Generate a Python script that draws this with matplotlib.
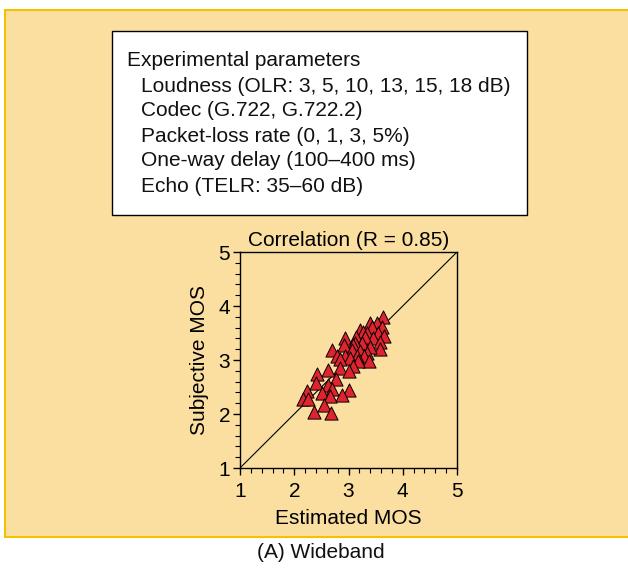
import matplotlib
matplotlib.use("Agg")
import matplotlib.pyplot as plt
from matplotlib.patches import Rectangle
from matplotlib.ticker import MultipleLocator

plt.rcParams['font.family'] = ['Liberation Sans', 'DejaVu Sans']

# Data
estimated_mos = [3.63, 3.39, 3.52, 3.62, 3.43, 3.22, 3.26, 3.34, 3.55, 3.65,
                 3.46, 2.94, 3.14, 3.30, 3.58, 3.58, 3.25, 3.12, 3.09, 2.91,
                 3.40, 2.69, 3.06, 3.21, 3.34, 3.28, 3.15, 2.78, 2.94, 3.03,
                 2.85, 3.37, 3.18, 3.09, 2.85, 3.00, 2.63, 2.42, 2.77, 2.40,
                 2.63, 2.69, 2.23, 2.51, 3.00, 2.88, 2.65, 2.17, 2.26, 2.55,
                 2.37, 2.67]
subjective_mos = [3.80, 3.69, 3.69, 3.62, 3.61, 3.56, 3.52, 3.50, 3.50, 3.44,
                  3.41, 3.41, 3.43, 3.43, 3.33, 3.21, 3.31, 3.31, 3.28, 3.27,
                  3.24, 3.18, 3.19, 3.16, 3.13, 3.07, 3.08, 3.07, 3.07, 3.04,
                  3.02, 2.98, 2.98, 2.88, 2.85, 2.79, 2.81, 2.75, 2.64, 2.57,
                  2.54, 2.46, 2.42, 2.38, 2.45, 2.36, 2.33, 2.28, 2.27, 2.17,
                  2.03, 2.01]
diagonal = [1, 5]
ticks = [1, 2, 3, 4, 5]
param_lines = [
    "Experimental parameters",
    "Loudness (OLR: 3, 5, 10, 13, 15, 18 dB)",
    "Codec (G.722, G.722.2)",
    "Packet-loss rate (0, 1, 3, 5%)",
    "One-way delay (100\u2013400 ms)",
    "Echo (TELR: 35\u201360 dB)",
]

W, H = 628, 568
FS = 15
fig = plt.figure(figsize=(W / 100, H / 100), dpi=100, facecolor='white')

def fx(px):
    return px / W

def fy(py):
    return 1 - py / H

# Peach background panel
fig.patches.append(Rectangle((fx(5), fy(537)), fx(640) - fx(5), fy(10) - fy(537),
                             transform=fig.transFigure, facecolor='#FBDFA0',
                             edgecolor='#F5C200', linewidth=1.5, zorder=0))
# White parameters box
fig.patches.append(Rectangle((fx(112), fy(215)), fx(527) - fx(112), fy(31) - fy(215),
                             transform=fig.transFigure, facecolor='white',
                             edgecolor='black', linewidth=1.0, zorder=1))
line_y = [61, 86, 111, 136, 161, 186]
for i, (t, yy) in enumerate(zip(param_lines, line_y)):
    x0 = 127 if i == 0 else 141
    fig.text(fx(x0), fy(yy), t, fontsize=FS, ha='left', va='center', color='#111111',
             zorder=3)

ax = fig.add_axes([fx(240), fy(468), fx(457) - fx(240), fy(252) - fy(468)])
ax.set_zorder(5)
ax.set_facecolor('none')
ax.plot(diagonal, diagonal, color='black', linewidth=0.8, zorder=1)
ax.scatter(estimated_mos, subjective_mos, marker='^', s=90, facecolor='#E0242F',
           edgecolor='black', linewidth=0.7, zorder=3)
ax.set_xlim(1, 5)
ax.set_ylim(1, 5)
ax.set_xticks(ticks)
ax.set_yticks(ticks)
ax.xaxis.set_minor_locator(MultipleLocator(0.2))
ax.yaxis.set_minor_locator(MultipleLocator(0.2))
ax.tick_params(which='major', direction='out', length=5, width=1.0, labelsize=FS)
ax.tick_params(axis='x', which='major', pad=5)
ax.tick_params(axis='y', which='major', pad=2)
ax.tick_params(which='minor', direction='out', length=3.5, width=0.8)
for s in ax.spines.values():
    s.set_linewidth(1.0)
ax.set_title("Correlation (R = 0.85)", fontsize=FS, pad=4)
ax.set_xlabel("Estimated MOS", fontsize=FS, labelpad=6)
ax.set_ylabel("Subjective MOS", fontsize=FS, labelpad=7)

fig.text(fx(321), fy(553), "(A) Wideband", fontsize=FS, ha='center', va='center',
         color='#111111', zorder=3)

fig.savefig("out.png", dpi=100, facecolor='white')
